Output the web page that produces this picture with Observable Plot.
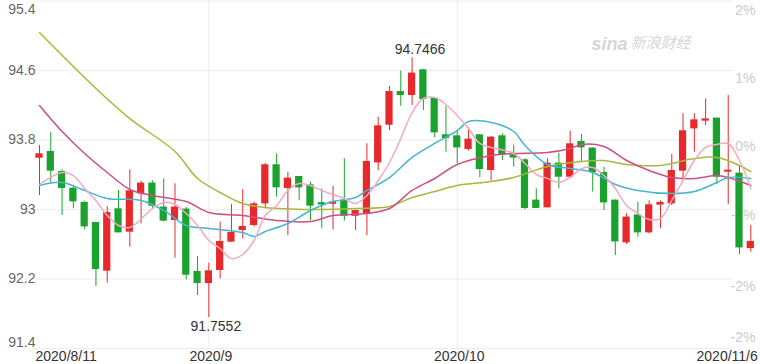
<!DOCTYPE html>
<html><head><meta charset="utf-8">
<script src="https://cdn.jsdelivr.net/npm/d3@7"></script>
<script src="https://cdn.jsdelivr.net/npm/@observablehq/plot@0.6"></script>
<style>body{margin:0;background:#fff;} svg{display:block}</style>
</head><body><div id="chart"></div>
<script>
// ---- data ----
const opens  = [93.598,93.660,93.429,93.238,93.073,92.842,92.298,93.000,92.747,93.188,93.296,93.020,92.882,92.997,92.278,92.156,92.306,92.632,92.766,92.824,93.073,93.507,93.250,93.372,93.276,93.070,93.068,93.100,92.930,92.951,93.544,93.978,94.350,94.320,94.600,94.274,93.852,93.840,93.699,93.852,93.457,93.840,93.622,93.564,93.100,93.027,93.526,93.380,93.775,93.699,93.418,93.100,92.624,92.930,92.739,93.058,93.073,93.449,93.936,94.025,94.044,93.438,93.411,92.558];
const highs  = [93.737,93.890,93.457,93.276,93.096,92.850,93.035,93.219,93.457,93.326,93.330,93.353,93.296,93.023,92.459,92.382,92.854,93.057,93.227,93.085,93.530,93.641,93.430,93.380,93.315,93.238,93.265,93.584,92.995,93.756,94.062,94.416,94.592,94.7466,94.610,94.280,94.186,93.909,93.940,93.860,93.840,93.870,93.740,93.584,93.238,93.584,93.648,93.901,93.863,93.710,93.487,93.110,92.951,93.085,93.100,93.100,93.633,94.102,94.102,94.274,94.050,94.312,93.507,92.816];
const lows   = [93.161,93.300,92.931,93.008,92.766,92.114,92.152,92.732,92.566,92.835,93.010,92.855,92.440,92.190,92.010,91.7552,92.202,92.624,92.663,92.796,93.008,93.142,92.700,93.100,92.873,92.778,92.766,92.866,92.758,92.700,93.449,93.909,94.186,94.197,94.140,93.825,93.660,93.526,93.672,93.365,93.326,93.564,93.487,92.997,93.010,93.020,93.238,93.370,93.544,93.200,92.988,92.470,92.597,92.680,92.720,92.778,93.046,93.334,93.660,93.967,93.288,93.058,92.482,92.509];
const closes = [93.633,93.449,93.250,93.096,92.808,92.317,92.957,92.739,93.207,93.296,93.046,92.874,93.020,92.252,92.156,92.286,92.624,92.727,92.796,93.057,93.507,93.257,93.353,93.257,93.046,93.060,93.078,92.930,92.980,93.544,93.955,94.350,94.320,94.562,94.274,93.890,93.825,93.717,93.802,93.468,93.825,93.633,93.600,93.020,93.020,93.526,93.380,93.748,93.717,93.430,93.084,92.635,92.905,92.739,93.046,93.073,93.441,93.898,94.024,94.035,93.380,93.445,92.566,92.624];

// moving-average lines, read as [trading-day index, value]
const ma5 = [[0,93.288],[2,93.426],[3,93.391],[4,93.242],[5,93.104],[6,92.931],[7,92.816],[8,92.793],[10,93.011],[11,93.081],[12,93.058],[13,92.954],[14,92.816],[15,92.643],[16,92.551],[17,92.436],[18,92.482],[19,92.643],[20,92.931],[21,93.046],[22,93.219],[23,93.299],[24,93.276],[25,93.219],[26,93.173],[27,93.127],[28,93.069],[29,93.161],[30,93.334],[31,93.541],[32,93.817],[33,94.116],[34,94.278],[35,94.289],[36,94.209],[37,94.082],[38,93.932],[39,93.760],[40,93.714],[42,93.645],[43,93.530],[44,93.403],[45,93.357],[46,93.311],[47,93.368],[48,93.472],[49,93.484],[50,93.391],[51,93.242],[52,93.046],[53,92.954],[54,92.885],[55,92.896],[56,93.104],[57,93.334],[58,93.564],[59,93.714],[60,93.749],[61,93.760],[62,93.564],[63,93.242]];
const ma10 = [[0,93.276],[2,93.311],[4,93.219],[6,93.127],[9,93.104],[11,92.989],[13,92.816],[15,92.782],[18,92.736],[19,92.690],[20,92.747],[22,92.839],[24,92.989],[26,93.092],[28,93.138],[29,93.219],[31,93.368],[33,93.599],[35,93.760],[37,93.909],[38,94.013],[40,94.001],[42,93.898],[43,93.737],[45,93.518],[47,93.472],[49,93.426],[51,93.288],[53,93.219],[56,93.184],[58,93.207],[60,93.311],[61,93.368],[63,93.357]];
const ma20 = [[0,94.197],[2,93.898],[4,93.645],[6,93.426],[8,93.230],[10,93.161],[13,93.092],[15,92.966],[18,92.931],[21,92.873],[24,92.862],[26,92.931],[29,92.954],[31,93.011],[33,93.219],[35,93.357],[37,93.518],[40,93.622],[42,93.645],[45,93.656],[47,93.702],[48,93.748],[50,93.725],[52,93.564],[54,93.449],[56,93.368],[58,93.357],[60,93.391],[61,93.368],[63,93.276]];
const ma60 = [[0,95.037],[5,94.393],[8,94.047],[12,93.668],[14,93.357],[16,93.196],[18,93.069],[20,93.023],[24,93.000],[28,93.011],[31,93.035],[33,93.138],[35,93.207],[37,93.276],[40,93.322],[42,93.368],[45,93.495],[48,93.553],[50,93.564],[52,93.518],[55,93.507],[58,93.587],[60,93.599],[62,93.507],[63,93.437]];

const yTicks = [91.4, 92.2, 93, 93.8, 94.6, 95.4];
const yTickLabels = ["91.4", "92.2", "93", "93.8", "94.6", "95.4"];
const pctLabels = ["2%", "1%", "0%", "-1%", "-2%", "-2%"];
const pctValues = [95.29, 94.51, 93.72, 92.93, 92.11, 91.53];
const xTickIdx = [0, 15, 37, 63];
const xTickLabels = ["2020/8/11", "2020/9", "2020/10", "2020/11/6"];
const monthIdx = [15, 37];
const hiMark = {i: 33, v: 94.7466, label: "94.7466"};
const loMark = {i: 15, v: 91.7552, label: "91.7552"};

// ---- chart ----
const candles = opens.map((o, i) => ({i, open: o, high: highs[i], low: lows[i], close: closes[i], up: closes[i] >= o}));
const RED = "#e8292b", GREEN = "#1ba12e";
const FONT = "'Liberation Sans', Arial, sans-serif";
const col = d => d.up ? RED : GREEN;
const lineOpts = (stroke) => ({x: d => d[0], y: d => d[1], stroke, strokeWidth: 1.5, curve: "catmull-rom"});

const plot = Plot.plot({
  width: 760, height: 364,
  marginLeft: 33, marginRight: 27, marginTop: 0, marginBottom: 16,
  style: {fontFamily: FONT, background: "#fff"},
  x: {type: "linear", domain: [0, 63], range: [39, 750.3], axis: null},
  y: {domain: [91.4, 95.4], range: [348, 0.5], axis: null},
  marks: [
    Plot.ruleY(yTicks, {stroke: "#ececec"}),
    Plot.ruleX(monthIdx, {stroke: "#ececec"}),
    // left axis labels
    Plot.text(yTicks.slice(1, 5), {y: d => d, text: (d, i) => yTickLabels[i + 1], frameAnchor: "left", textAnchor: "end", dx: 2, fill: "#666", fontSize: 14}),
    Plot.text([yTicks[5]], {y: d => d, text: () => yTickLabels[5], frameAnchor: "left", textAnchor: "end", dx: 2, dy: 9, fill: "#666", fontSize: 14}),
    Plot.text([yTicks[0]], {y: d => d, text: () => yTickLabels[0], frameAnchor: "left", textAnchor: "end", dx: 2, dy: -6, fill: "#666", fontSize: 14}),
    // right percent labels (beneath candles)
    Plot.text(pctValues, {y: d => d, text: (d, i) => pctLabels[i], frameAnchor: "right", textAnchor: "end", dx: 22, fill: "#cacaca", fontSize: 14}),
    // watermark
    Plot.text(["新浪财经"], {frameAnchor: "top-right", textAnchor: "end", dx: -43, dy: 37, fill: "#d6d6d6", fontSize: 15, fontStyle: "italic", fontFamily: "'Noto Sans CJK SC', sans-serif"}),
    Plot.text(["sina"], {frameAnchor: "top-right", textAnchor: "end", dx: -106, dy: 37, fill: "#d6d6d6", fontSize: 18, fontStyle: "italic", fontWeight: "bold"}),
    // candles
    Plot.ruleX(candles, {x: "i", y1: "low", y2: "high", stroke: col, strokeWidth: 1}),
    Plot.rect(candles, {x1: d => d.i - 0.32, x2: d => d.i + 0.32, y1: d => Math.min(d.open, d.close), y2: d => Math.max(d.open, d.close), fill: col, insetTop: -0.7, insetBottom: -0.7}),
    // moving averages
    Plot.line(ma60, lineOpts("#a9b83a")),
    Plot.line(ma20, lineOpts("#cc4f86")),
    Plot.line(ma10, lineOpts("#44b6cf")),
    Plot.line(ma5, lineOpts("#f1a9c6")),
    // extremes
    Plot.text([hiMark], {x: "i", y: "v", text: "label", dx: 8, dy: -8, fill: "#333", fontSize: 14}),
    Plot.text([loMark], {x: "i", y: "v", text: "label", dx: 7, dy: 9, fill: "#333", fontSize: 14}),
    // x labels
    Plot.text([xTickIdx[0]], {x: d => d, text: () => xTickLabels[0], frameAnchor: "bottom", textAnchor: "start", dx: -4, dy: 12, fill: "#333", fontSize: 14}),
    Plot.text(xTickIdx.slice(1, 3), {x: d => d, text: (d, i) => xTickLabels[i + 1], frameAnchor: "bottom", textAnchor: "middle", dx: 2, dy: 12, fill: "#333", fontSize: 14}),
    Plot.text([xTickIdx[3]], {x: d => d, text: () => xTickLabels[3], frameAnchor: "bottom", textAnchor: "end", dx: 7, dy: 12, fill: "#333", fontSize: 14})
  ]
});
document.getElementById("chart").appendChild(plot);
</script>
</body></html>
